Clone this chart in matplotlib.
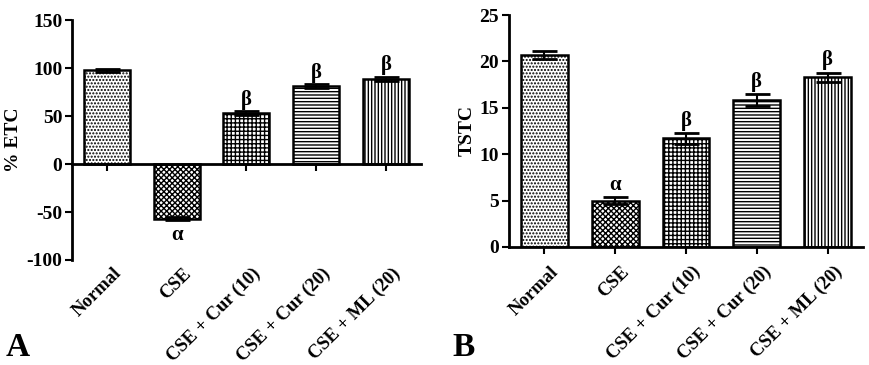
import matplotlib.pyplot as plt
import matplotlib.transforms as mtransforms

plt.rcParams['font.family'] = ['Liberation Serif', 'DejaVu Serif']
plt.rcParams['font.weight'] = 'bold'
plt.rcParams['axes.unicode_minus'] = False
plt.rcParams['hatch.linewidth'] = 1.0

groups = ['Normal', 'CSE', 'CSE + Cur (10)', 'CSE + Cur (20)', 'CSE + ML (20)']
etc_vals = [98, -57, 53, 81, 89]
etc_err = [1.5, 1.8, 2.0, 2.0, 2.0]
etc_marks = ['', 'α', 'β', 'β', 'β']
tstc_vals = [20.7, 5.0, 11.7, 15.8, 18.3]
tstc_err = [0.4, 0.4, 0.55, 0.65, 0.5]
tstc_marks = ['', 'α', 'β', 'β', 'β']
hatches = ['.....', 'xxxxxx', '++++', '-----', '|||||']

fig = plt.figure(figsize=(8.7, 3.65), dpi=100)
axA = fig.add_axes([0.0828, 0.2877, 0.401, 0.657])
axB = fig.add_axes([0.585, 0.3233, 0.407, 0.6356])

x = range(len(groups))


def draw(ax, vals, err, marks, ylim, yticks, ylabel, mark_off, lab_y):
    bars = ax.bar(x, vals, width=0.66, color='white', edgecolor='black',
                  linewidth=1.8, zorder=2)
    for b, h in zip(bars, hatches):
        b.set_hatch(h)
    ax.errorbar(x, vals, yerr=err, fmt='none', ecolor='black', elinewidth=1.5,
                capsize=9, capthick=2, zorder=3)
    for i, (v, e, m) in enumerate(zip(vals, err, marks)):
        if not m:
            continue
        if v < 0:
            ax.text(i, v - e - mark_off, m, ha='center', va='top', fontsize=15)
        else:
            ax.text(i, v + e + mark_off * 0.3, m, ha='center', va='bottom', fontsize=15)
    ax.set_xlim(-0.5, len(groups) - 0.5)
    ax.set_ylim(*ylim)
    ax.set_yticks(yticks)
    ax.set_ylabel(ylabel, fontsize=14, fontweight='bold', labelpad=3)
    ax.spines['top'].set_visible(False)
    ax.spines['right'].set_visible(False)
    ax.spines['left'].set_linewidth(2)
    ax.spines['bottom'].set_linewidth(2)
    ax.spines['bottom'].set_position(('data', 0))
    ax.tick_params(axis='y', direction='out', length=5, width=1.5, labelsize=14, pad=2)
    ax.tick_params(axis='x', direction='out', length=5, width=1.5, labelbottom=False)
    ax.set_xticks(list(x))
    trans = mtransforms.blended_transform_factory(ax.transData, ax.transAxes)
    for i, g in enumerate(groups):
        ax.text(i + 0.08, lab_y, g, transform=trans, rotation=45, ha='right', va='top',
                rotation_mode='anchor', fontsize=13.5, fontweight='bold')


draw(axA, etc_vals, etc_err, etc_marks, (-100, 150), [-100, -50, 0, 50, 100, 150], '% ETC', 5, -0.02)
draw(axB, tstc_vals, tstc_err, tstc_marks, (0, 25), [0, 5, 10, 15, 20, 25], 'TSTC', 0.8, -0.07)

fig.text(0.006, 0.025, 'A', fontsize=24, fontweight='bold')
fig.text(0.52, 0.025, 'B', fontsize=24, fontweight='bold')

fig.savefig('out.png', dpi=100, facecolor='white')
